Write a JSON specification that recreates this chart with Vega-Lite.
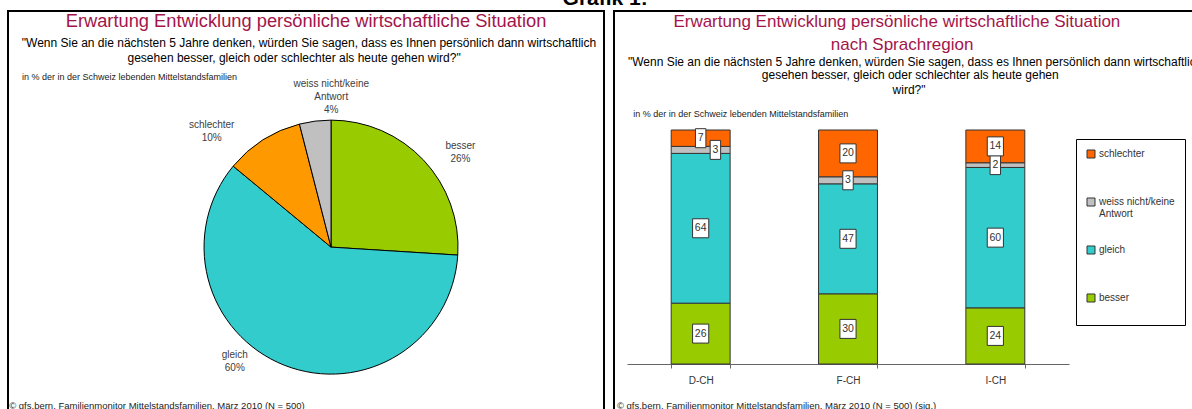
{
  "$schema": "https://vega.github.io/schema/vega-lite/v6.json",
  "padding": {"left": 7, "top": -12, "right": 0, "bottom": 0},
  "autosize": {"type": "pad"},
  "title": {"text": "Grafik 1:", "fontSize": 21, "fontWeight": "bold", "font": "Liberation Sans", "anchor": "middle", "offset": 1, "color": "#000"},
  "config": {"font": "Liberation Sans", "view": {"stroke": "#000", "strokeWidth": 2}},
  "datasets": {
    "pie": [
      {"kategorie": "besser", "wert": 26},
      {"kategorie": "gleich", "wert": 60},
      {"kategorie": "schlechter", "wert": 10},
      {"kategorie": "weiss nicht/keine Antwort", "wert": 4}
    ],
    "bars": [
      {"region": "D-CH", "kategorie": "besser", "wert": 26},
      {"region": "D-CH", "kategorie": "gleich", "wert": 64},
      {"region": "D-CH", "kategorie": "weiss nicht/keine Antwort", "wert": 3},
      {"region": "D-CH", "kategorie": "schlechter", "wert": 7},
      {"region": "F-CH", "kategorie": "besser", "wert": 30},
      {"region": "F-CH", "kategorie": "gleich", "wert": 47},
      {"region": "F-CH", "kategorie": "weiss nicht/keine Antwort", "wert": 3},
      {"region": "F-CH", "kategorie": "schlechter", "wert": 20},
      {"region": "I-CH", "kategorie": "besser", "wert": 24},
      {"region": "I-CH", "kategorie": "gleich", "wert": 60},
      {"region": "I-CH", "kategorie": "weiss nicht/keine Antwort", "wert": 2},
      {"region": "I-CH", "kategorie": "schlechter", "wert": 14}
    ]
  },
  "spacing": 8,
  "hconcat": [
    {
      "width": 596,
      "height": 405,
      "encoding": {
        "x": {"datum": 0.542, "type": "quantitative", "scale": {"domain": [0, 1]}, "axis": null},
        "y": {"datum": 0.583, "type": "quantitative", "scale": {"domain": [0, 1], "reverse": true}, "axis": null}
      },
      "layer": [
        {
          "data": {"name": "pie"},
          "transform": [
            {"stack": "wert", "groupby": [], "sort": [{"field": "kategorie", "order": "ascending"}], "as": ["s0", "s1"]},
            {"calculate": "(datum.s0 + datum.s1) / 2", "as": "mitte"},
            {"calculate": "replace(datum.kategorie, ' Antwort', '\\nAntwort') + '\\n' + datum.wert + '%'", "as": "lbl"}
          ],
          "layer": [
            {
              "mark": {"type": "arc", "outerRadius": 127, "stroke": "#000", "strokeWidth": 1},
              "encoding": {
                "theta": {"field": "s0", "type": "quantitative", "scale": {"domain": [0, 100]}},
                "theta2": {"field": "s1"},
                "color": {"field": "kategorie", "type": "nominal", "scale": {"domain": ["besser", "gleich", "schlechter", "weiss nicht/keine Antwort"], "range": ["#99CC00", "#33CCCC", "#FF9900", "#C0C0C0"]}, "legend": null}
              }
            },
            {
              "transform": [{"filter": "datum.kategorie == 'besser'"}],
              "mark": {"type": "text", "radius": 150, "dx": 20, "dy": 2, "fontSize": 10, "color": "#404040", "lineBreak": "\n", "lineHeight": 13, "align": "center", "baseline": "middle"},
              "encoding": {"theta": {"field": "mitte", "type": "quantitative"}, "text": {"field": "lbl"}}
            },
            {
              "transform": [{"filter": "datum.kategorie == 'gleich'"}],
              "mark": {"type": "text", "radius": 150, "dx": -41, "dy": -32, "fontSize": 10, "color": "#404040", "lineBreak": "\n", "lineHeight": 13, "align": "center", "baseline": "middle"},
              "encoding": {"theta": {"field": "mitte", "type": "quantitative"}, "text": {"field": "lbl"}}
            },
            {
              "transform": [{"filter": "datum.kategorie == 'schlechter'"}],
              "mark": {"type": "text", "radius": 150, "dx": -39, "dy": 5, "fontSize": 10, "color": "#404040", "lineBreak": "\n", "lineHeight": 13, "align": "center", "baseline": "middle"},
              "encoding": {"theta": {"field": "mitte", "type": "quantitative"}, "text": {"field": "lbl"}}
            },
            {
              "transform": [{"filter": "datum.kategorie == 'weiss nicht/keine Antwort'"}],
              "mark": {"type": "text", "radius": 150, "dx": 19, "dy": -14, "fontSize": 10, "color": "#404040", "lineBreak": "\n", "lineHeight": 13, "align": "center", "baseline": "middle"},
              "encoding": {"theta": {"field": "mitte", "type": "quantitative"}, "text": {"field": "lbl"}}
            }
          ]
        },
        {
          "data": {"values": [{}]},
          "mark": {"type": "text", "align": "center", "baseline": "middle", "fontSize": 18.3, "color": "#A3154A"},
          "encoding": {"x": {"datum": 0.5}, "y": {"datum": 0.027}, "text": {"value": "Erwartung Entwicklung persönliche wirtschaftliche Situation"}}
        },
        {
          "data": {"values": [{}]},
          "mark": {"type": "text", "align": "center", "baseline": "middle", "fontSize": 12, "color": "#000"},
          "encoding": {"x": {"datum": 0.505}, "y": {"datum": 0.079}, "text": {"value": "\"Wenn Sie an die nächsten 5 Jahre denken, würden Sie sagen, dass es Ihnen persönlich dann wirtschaftlich"}}
        },
        {
          "data": {"values": [{}]},
          "mark": {"type": "text", "align": "center", "baseline": "middle", "fontSize": 12, "color": "#000"},
          "encoding": {"x": {"datum": 0.48}, "y": {"datum": 0.116}, "text": {"value": "gesehen besser, gleich oder schlechter als heute gehen wird?\""}}
        },
        {
          "data": {"values": [{}]},
          "mark": {"type": "text", "align": "left", "baseline": "middle", "fontSize": 9, "color": "#222"},
          "encoding": {"x": {"datum": 0.0235}, "y": {"datum": 0.163}, "text": {"value": "in % der in der Schweiz lebenden Mittelstandsfamilien"}}
        },
        {
          "data": {"values": [{}]},
          "mark": {"type": "text", "align": "left", "baseline": "middle", "fontSize": 9.5, "color": "#222"},
          "encoding": {"x": {"datum": 0.002}, "y": {"datum": 0.975}, "text": {"value": "© gfs.bern, Familienmonitor Mittelstandsfamilien, März 2010 (N = 500)"}}
        }
      ]
    },
    {
      "width": 582,
      "height": 405,
      "layer": [
        {
          "data": {"name": "bars"},
          "transform": [
            {"calculate": "indexof(['besser', 'gleich', 'weiss nicht/keine Antwort', 'schlechter'], datum.kategorie)", "as": "rang"},
            {"stack": "wert", "groupby": ["region"], "sort": [{"field": "rang", "order": "ascending"}], "as": ["y0", "y1"]},
            {"calculate": "(datum.y0 + datum.y1) / 2", "as": "mitte"}
          ],
          "encoding": {
            "x": {"field": "region", "type": "nominal", "sort": ["D-CH", "F-CH", "I-CH"], "scale": {"range": [13, 455], "paddingInner": 0.6, "paddingOuter": 0.3},
              "axis": {"orient": "bottom", "offset": -52, "title": null, "labelAngle": 0, "labelFontSize": 10, "labelColor": "#333", "labelPadding": 7, "domainColor": "#666", "tickColor": "#666", "tickBand": "extent", "tickSize": 4, "labelFont": "Liberation Sans"}}
          },
          "layer": [
            {
              "mark": {"type": "bar", "stroke": "#333", "strokeWidth": 1},
              "encoding": {
                "y": {"field": "y0", "type": "quantitative", "scale": {"domain": [0, 100], "range": [353, 119]}, "axis": null},
                "y2": {"field": "y1"},
                "color": {"field": "kategorie", "type": "nominal",
                  "scale": {"domain": ["schlechter", "weiss nicht/keine Antwort", "gleich", "besser"], "range": ["#FF6600", "#C0C0C0", "#33CCCC", "#99CC00"]},
                  "legend": {"orient": "none", "legendX": 462, "legendY": 128, "title": null, "strokeColor": "#000", "padding": 10, "symbolType": "square", "symbolSize": 64, "symbolStrokeColor": "#333", "symbolStrokeWidth": 1, "labelFontSize": 10, "labelColor": "#333", "rowPadding": 25, "labelOffset": 3, "labelFont": "Liberation Sans",
                    "labelExpr": "datum.label == 'weiss nicht/keine Antwort' ? ['weiss nicht/keine', 'Antwort'] : [datum.label, ' ']"}
                }
              }
            },
            {
              "transform": [{"filter": "!(datum.region == 'D-CH' && datum.rang == 2)"}],
              "mark": {"type": "point", "filled": true, "fill": "#fff", "stroke": "#333", "strokeWidth": 1, "opacity": 1, "size": 361},
              "encoding": {
                "y": {"field": "mitte", "type": "quantitative"},
                "shape": {"condition": {"test": "datum.wert < 10", "value": "M-0.55,-1H0.55V1H-0.55Z"}, "value": "M-0.85,-1H0.85V1H-0.85Z"}
              }
            },
            {
              "transform": [{"filter": "!(datum.region == 'D-CH' && datum.rang == 2)"}],
              "mark": {"type": "text", "fontSize": 10.5, "color": "#333", "align": "center", "baseline": "middle"},
              "encoding": {"y": {"field": "mitte", "type": "quantitative"}, "text": {"field": "wert"}}
            },
            {
              "transform": [{"filter": "datum.region == 'D-CH' && datum.rang == 2"}],
              "mark": {"type": "point", "filled": true, "fill": "#fff", "stroke": "#333", "strokeWidth": 1, "opacity": 1, "size": 361, "shape": "M-0.55,-1H0.55V1H-0.55Z"},
              "encoding": {
                "x": {"field": "region", "type": "nominal", "bandPosition": 0.75},
                "y": {"field": "mitte", "type": "quantitative"}
              }
            },
            {
              "transform": [{"filter": "datum.region == 'D-CH' && datum.rang == 2"}],
              "mark": {"type": "text", "fontSize": 10.5, "color": "#333", "align": "center", "baseline": "middle"},
              "encoding": {"x": {"field": "region", "type": "nominal", "bandPosition": 0.75}, "y": {"field": "mitte", "type": "quantitative"}, "text": {"field": "wert"}}
            }
          ]
        },
        {
          "data": {"values": [{}]},
          "encoding": {
            "x": {"datum": 0.5, "type": "quantitative", "scale": {"domain": [0, 1]}, "axis": null},
            "y": {"datum": 0.5, "type": "quantitative", "scale": {"domain": [0, 1], "reverse": true}, "axis": null}
          },
          "layer": [
            {
              "mark": {"type": "text", "align": "center", "baseline": "middle", "fontSize": 17, "color": "#A3154A"},
              "encoding": {"x": {"datum": 0.486, "type": "quantitative"}, "y": {"datum": 0.027, "type": "quantitative"}, "text": {"value": "Erwartung Entwicklung persönliche wirtschaftliche Situation"}}
            },
            {
              "mark": {"type": "text", "align": "center", "baseline": "middle", "fontSize": 17, "color": "#A3154A"},
              "encoding": {"x": {"datum": 0.495, "type": "quantitative"}, "y": {"datum": 0.084, "type": "quantitative"}, "text": {"value": "nach Sprachregion"}}
            },
            {
              "mark": {"type": "text", "align": "left", "baseline": "middle", "fontSize": 12, "color": "#000"},
              "encoding": {"x": {"datum": 0.024, "type": "quantitative"}, "y": {"datum": 0.126, "type": "quantitative"}, "text": {"value": "\"Wenn Sie an die nächsten 5 Jahre denken, würden Sie sagen, dass es Ihnen persönlich dann wirtschaftlich"}}
            },
            {
              "mark": {"type": "text", "align": "center", "baseline": "middle", "fontSize": 12, "color": "#000"},
              "encoding": {"x": {"datum": 0.509, "type": "quantitative"}, "y": {"datum": 0.158, "type": "quantitative"}, "text": {"value": "gesehen besser, gleich oder schlechter als heute gehen"}}
            },
            {
              "mark": {"type": "text", "align": "center", "baseline": "middle", "fontSize": 12, "color": "#000"},
              "encoding": {"x": {"datum": 0.507, "type": "quantitative"}, "y": {"datum": 0.195, "type": "quantitative"}, "text": {"value": "wird?\""}}
            },
            {
              "mark": {"type": "text", "align": "left", "baseline": "middle", "fontSize": 9, "color": "#222"},
              "encoding": {"x": {"datum": 0.033, "type": "quantitative"}, "y": {"datum": 0.254, "type": "quantitative"}, "text": {"value": "in % der in der Schweiz lebenden Mittelstandsfamilien"}}
            },
            {
              "mark": {"type": "text", "align": "left", "baseline": "middle", "fontSize": 9.5, "color": "#222"},
              "encoding": {"x": {"datum": 0.005, "type": "quantitative"}, "y": {"datum": 0.975, "type": "quantitative"}, "text": {"value": "© gfs.bern, Familienmonitor Mittelstandsfamilien, März 2010 (N = 500) (sig.)"}}
            }
          ]
        }
      ],
      "resolve": {"scale": {"x": "independent", "y": "independent"}}
    }
  ],
  "resolve": {"scale": {"color": "independent", "x": "independent", "y": "independent", "theta": "independent"}, "legend": {"color": "independent"}}
}
